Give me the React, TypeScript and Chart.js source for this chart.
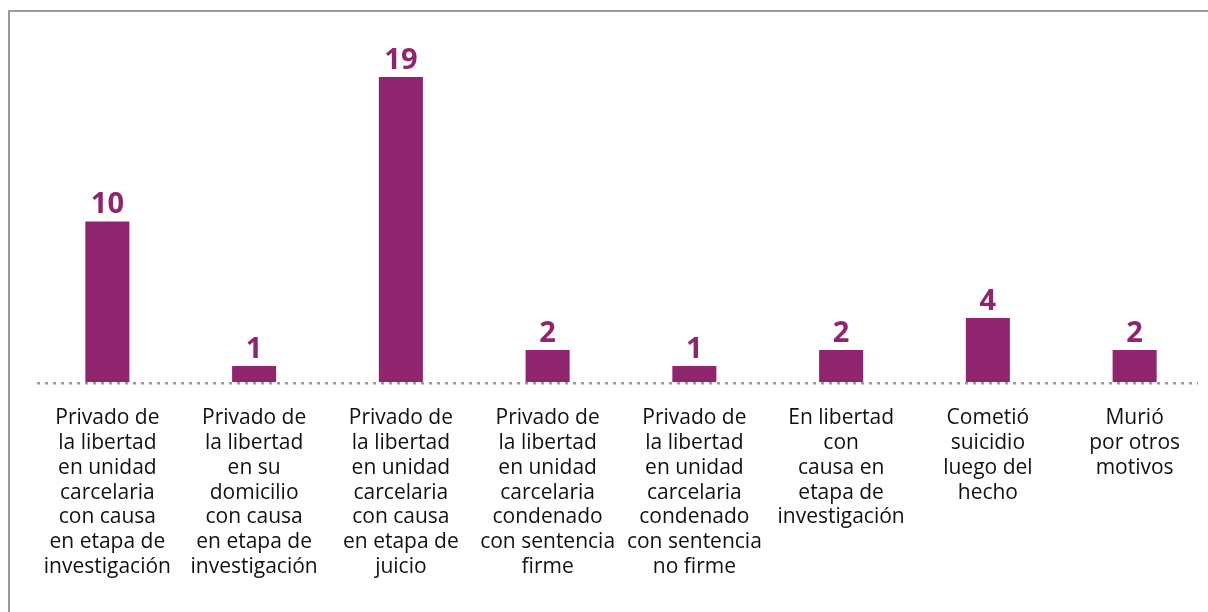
import React, { useEffect, useRef } from "react";
import { Chart, registerables } from "chart.js";

Chart.register(...registerables);

const categories: string[][] = [
  ["Privado de", "la libertad", "en unidad", "carcelaria", "con causa", "en etapa de", "investigación"],
  ["Privado de", "la libertad", "en su", "domicilio", "con causa", "en etapa de", "investigación"],
  ["Privado de", "la libertad", "en unidad", "carcelaria", "con causa", "en etapa de", "juicio"],
  ["Privado de", "la libertad", "en unidad", "carcelaria", "condenado", "con sentencia", "firme"],
  ["Privado de", "la libertad", "en unidad", "carcelaria", "condenado", "con sentencia", "no firme"],
  ["En libertad", "con", "causa en", "etapa de", "investigación"],
  ["Cometió", "suicidio", "luego del", "hecho"],
  ["Murió", "por otros", "motivos"],
];

const values: number[] = [10, 1, 19, 2, 1, 2, 4, 2];

const PURPLE = "#8e256e";
const GRAY = "#9a9a9a";

const valueLabelPlugin = {
  id: "valueLabels",
  afterDatasetsDraw(chart: any) {
    const ctx = chart.ctx;
    const meta = chart.getDatasetMeta(0);
    ctx.save();
    ctx.fillStyle = PURPLE;
    ctx.font = "bold 29px 'Open Sans', sans-serif";
    ctx.textAlign = "center";
    ctx.textBaseline = "bottom";
    meta.data.forEach((bar: any, i: number) => {
      ctx.fillText(String(values[i]), bar.x, bar.y - 2);
    });
    ctx.restore();
  },
};

const dottedBaselinePlugin = {
  id: "dottedBaseline",
  afterDatasetsDraw(chart: any) {
    const ctx = chart.ctx;
    const y = chart.scales.y.getPixelForValue(0);
    const { left, right } = chart.chartArea;
    ctx.save();
    ctx.strokeStyle = GRAY;
    ctx.lineWidth = 2.5;
    ctx.setLineDash([3, 5]);
    ctx.beginPath();
    ctx.moveTo(left + 3, y + 1);
    ctx.lineTo(right - 10, y + 1);
    ctx.stroke();
    ctx.restore();
  },
};

export default function App() {
  const canvasRef = useRef<HTMLCanvasElement | null>(null);

  useEffect(() => {
    if (!canvasRef.current) return;
    const chart = new Chart(canvasRef.current, {
      type: "bar",
      data: {
        labels: categories,
        datasets: [
          {
            data: values,
            backgroundColor: PURPLE,
            barPercentage: 0.3,
            categoryPercentage: 1,
          },
        ],
      },
      options: {
        animation: false,
        responsive: false,
        maintainAspectRatio: false,
        layout: { padding: { top: 45, left: 34, right: 0, bottom: 9 } },
        plugins: {
          legend: { display: false },
          tooltip: { enabled: false },
        },
        scales: {
          x: {
            grid: { display: false, drawTicks: false },
            border: { display: false },
            ticks: {
              color: "#111111",
              padding: 24,
              maxRotation: 0,
              autoSkip: false,
              font: { family: "'Open Sans', sans-serif", size: 21, lineHeight: 1.176 },
            },
          },
          y: {
            display: false,
            min: 0,
            max: 21,
          },
        },
      },
      plugins: [valueLabelPlugin, dottedBaselinePlugin],
    });
    return () => chart.destroy();
  }, []);

  return (
    <div style={{ position: "absolute", left: 0, top: 0, width: 1208, height: 612, background: "#fff", overflow: "hidden" }}>
      <div
        style={{
          position: "absolute",
          left: 8,
          top: 10,
          width: 1210,
          height: 610,
          borderTop: `2px solid ${GRAY}`,
          borderLeft: `2px solid ${GRAY}`,
        }}
      />
      <canvas ref={canvasRef} width={1208} height={612} style={{ position: "absolute", left: 0, top: 0 }} />
    </div>
  );
}
